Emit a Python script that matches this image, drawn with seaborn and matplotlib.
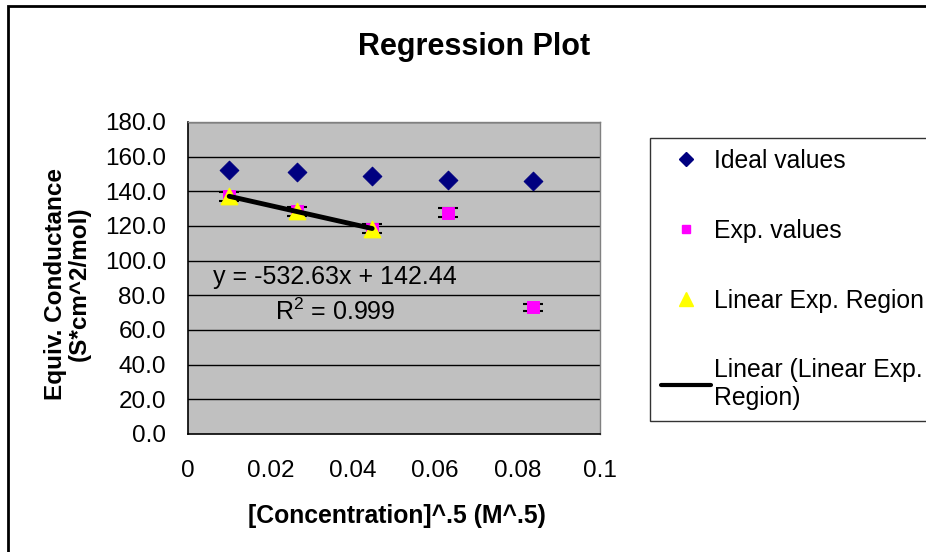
import numpy as np
import pandas as pd
import matplotlib
matplotlib.use("Agg")
import matplotlib.pyplot as plt
import seaborn as sns
from matplotlib.lines import Line2D
from matplotlib.patches import Rectangle

sns.set_theme(style="white")
plt.rcParams['font.family'] = ['Liberation Sans', 'DejaVu Sans']
plt.rcParams['text.color'] = 'black'
plt.rcParams['axes.labelcolor'] = 'black'
plt.rcParams['mathtext.fontset'] = 'custom'
plt.rcParams['mathtext.rm'] = 'Liberation Sans'

# data
conc_sqrt = [0.0100, 0.0265, 0.0447, 0.0632, 0.0837]
ideal_vals = [152.4, 151.3, 149.1, 146.8, 145.7]
exp_vals = [137.1, 128.4, 118.5, 127.6, 73.0]
exp_err = [2.5, 2.5, 2.5, 2.5, 2.0]
lin_x = conc_sqrt[:3]
lin_y = exp_vals[:3]
x_ticks = [0, 0.02, 0.04, 0.06, 0.08, 0.1]
x_tick_labels = ["0", "0.02", "0.04", "0.06", "0.08", "0.1"]
y_ticks = [0, 20, 40, 60, 80, 100, 120, 140, 160, 180]

df_ideal = pd.DataFrame({"x": conc_sqrt, "y": ideal_vals})
df_exp = pd.DataFrame({"x": conc_sqrt, "y": exp_vals, "err": exp_err})
df_lin = pd.DataFrame({"x": lin_x, "y": lin_y})

slope, intercept = np.polyfit(lin_x, lin_y, 1)
df_fit = pd.DataFrame({"x": [lin_x[0], lin_x[-1]]})
df_fit["y"] = slope * df_fit["x"] + intercept

fig = plt.figure(figsize=(9.26, 5.52), dpi=100)
fig.patch.set_facecolor("white")
ax = fig.add_axes([188 / 926, 1 - 434 / 552, 412 / 926, 312 / 552])
ax.set_facecolor("#C0C0C0")

for yv in y_ticks[1:]:
    ax.axhline(yv, color="black", lw=1.0, zorder=1)

ax.errorbar(df_exp["x"], df_exp["y"], yerr=df_exp["err"], fmt="none",
            ecolor="black", elinewidth=1.0, capsize=7, capthick=1.5, zorder=3)
sns.scatterplot(data=df_ideal, x="x", y="y", marker="D", color="#000080",
                s=90, edgecolor="#000080", ax=ax, zorder=4)
sns.scatterplot(data=df_exp, x="x", y="y", marker="s", color="#FF00FF",
                s=70, edgecolor="#FF00FF", ax=ax, zorder=4)
sns.scatterplot(data=df_lin, x="x", y="y", marker="^", color="#FFFF00",
                s=140, edgecolor="#FFFF00", ax=ax, zorder=5)
sns.lineplot(data=df_fit, x="x", y="y", color="black", lw=3.5, ax=ax, zorder=6)

ax.set_xlim(0, 0.1)
ax.set_ylim(0, 180)
ax.set_xticks(x_ticks)
ax.set_xticklabels(x_tick_labels)
ax.set_yticks(y_ticks)
ax.set_yticklabels([f"{v:.1f}" for v in y_ticks])
ax.tick_params(axis="both", labelsize=17.5, colors="black", length=6, width=1,
               direction="out", pad=10)
ax.tick_params(axis="x", pad=13)
ax.set_xlabel("")
ax.set_ylabel("")
for side in ["top", "right"]:
    ax.spines[side].set_color("#808080")
    ax.spines[side].set_linewidth(1.0)
for side in ["left", "bottom"]:
    ax.spines[side].set_color("black")
    ax.spines[side].set_linewidth(1.2)

ax.text(0.0357, 90.5, "y = -532.63x + 142.44", fontsize=18, ha="center", va="center")
ax.text(0.0357, 70.5, "R$^2$ = 0.999", fontsize=18, ha="center", va="center")

fig.text(474 / 926, 1 - 47 / 552, "Regression Plot", fontsize=22, fontweight="bold",
         ha="center", va="center")
fig.text(397 / 926, 1 - 516 / 552, "[Concentration]^.5 (M^.5)", fontsize=17.8,
         fontweight="bold", ha="center", va="center")
fig.text(67 / 926, 1 - 284 / 552, "Equiv. Conductance\n(S*cm^2/mol)", fontsize=17.5,
         fontweight="bold", ha="center", va="center", rotation=90,
         multialignment="center", linespacing=1.05)

handles = [
    Line2D([], [], marker="D", color="#000080", ls="none", markersize=7),
    Line2D([], [], marker="s", color="#FF00FF", ls="none", markersize=6),
    Line2D([], [], marker="^", color="#FFFF00", ls="none", markersize=10),
    Line2D([], [], color="black", lw=3),
]
labels = ["Ideal values", "Exp. values", "Linear Exp. Region", "Linear (Linear Exp.\nRegion)"]
leg = fig.legend(handles, labels, loc="upper left", bbox_to_anchor=(650 / 926, 1 - 138 / 552),
                 fontsize=17.8, frameon=True, fancybox=False, edgecolor="black",
                 labelspacing=1.85, handlelength=2.0, handletextpad=0.15,
                 borderpad=0.45, borderaxespad=0)
leg.get_frame().set_linewidth(1.0)

fig.patches.append(Rectangle((8 / 926, -0.1), 1.2, 1.1 - 6 / 552, transform=fig.transFigure,
                             fill=False, edgecolor="black", lw=2))

fig.savefig("out.png", dpi=100)
